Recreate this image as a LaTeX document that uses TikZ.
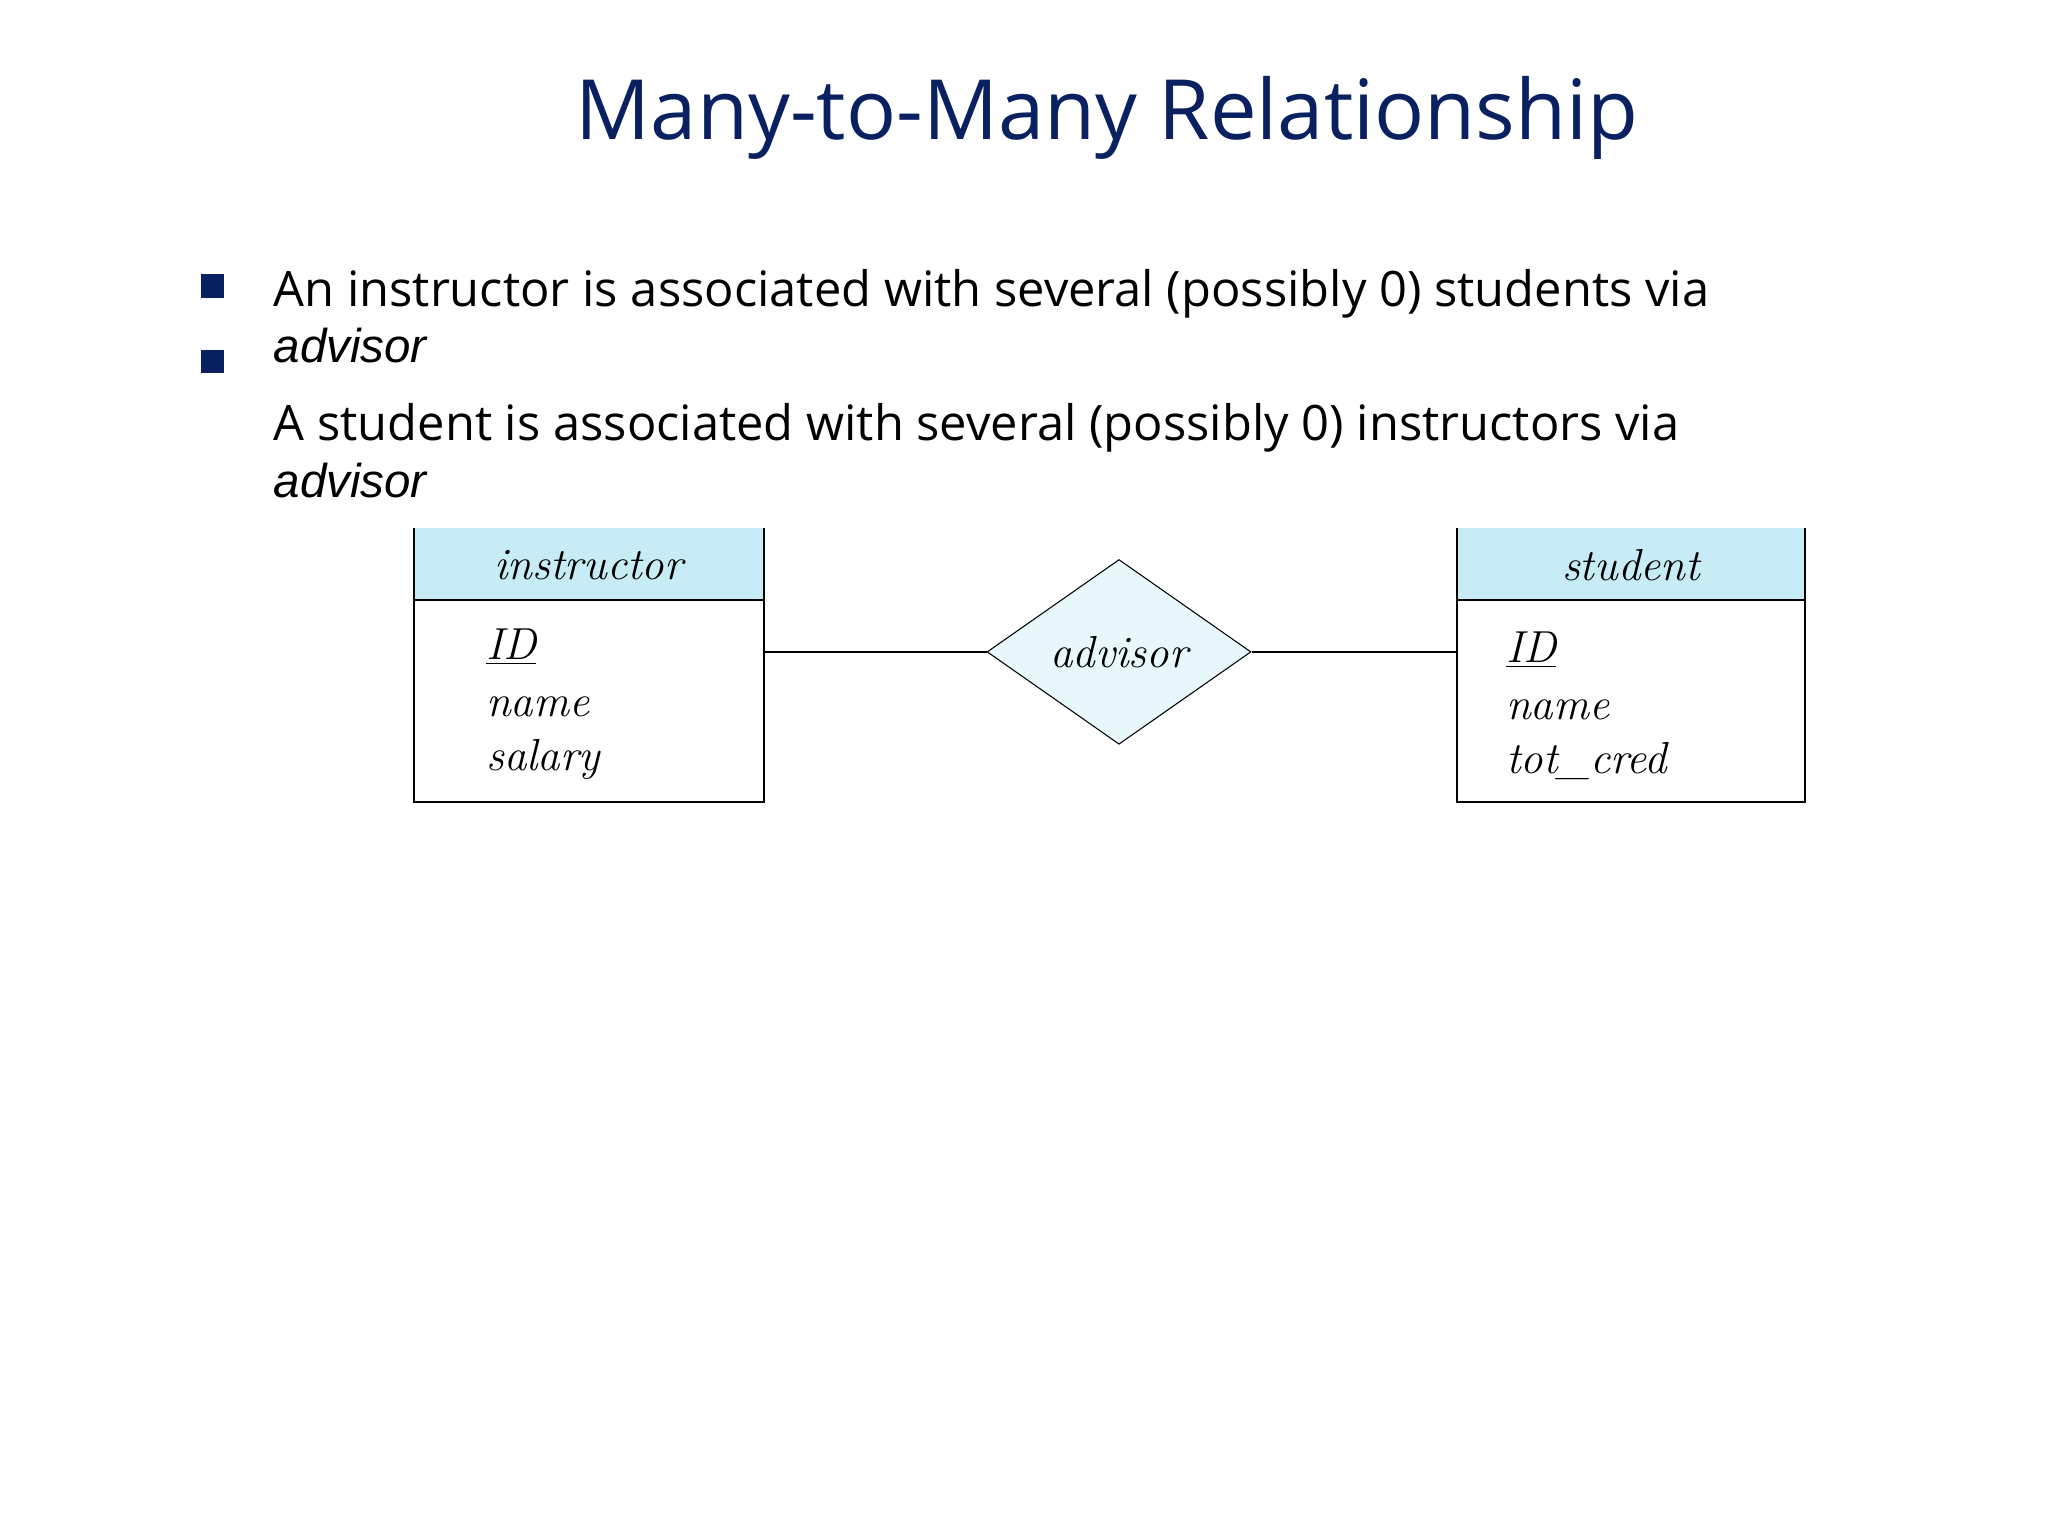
\documentclass[tikz,border=0pt]{standalone}
\usepackage{fontspec}
\setmainfont{Open Sans}
\newfontfamily\arialf{Liberation Sans}
\newfontfamily\erf{Latin Modern Roman}
\usetikzlibrary{shapes.geometric}
\definecolor{navy}{HTML}{0A2161}
\definecolor{hdr}{HTML}{C8ECF5}
\definecolor{dfill}{HTML}{E8F7FB}
\tikzset{
  txt/.style={anchor=base west,inner sep=0pt,font=\fontsize{18.5}{22}\selectfont},
  attr/.style={anchor=base west,inner sep=0pt,font=\erf\itshape\fontsize{17}{20}\selectfont},
  hd/.style={inner sep=0pt,font=\erf\itshape\fontsize{17}{20}\selectfont},
  bul/.style={fill=navy,minimum size=9pt,inner sep=0pt},
}
\begin{document}
\begin{tikzpicture}[x=0.5pt,y=-0.5pt]
\useasboundingbox (0,0) rectangle (1552,1164);
\node[anchor=base,inner sep=0pt,text=navy,font=\fontsize{31.5}{36}\selectfont] (title) at (839,106) {Many-to-Many Relationship};
\node[bul] (b1) at (161,217) {};
\node[bul] (b2) at (161,274) {};
\node[txt] (l1) at (207,232) {An instructor is associated with several (possibly 0) students via};
\node[txt,font=\arialf\itshape\fontsize{18}{20}\selectfont] (l2) at (207,275) {advisor};
\node[txt] (l3) at (207,334) {A student is associated with several (possibly 0) instructors via};
\node[txt,font=\arialf\itshape\fontsize{18}{20}\selectfont] (l4) at (207,377) {advisor};
% instructor
\fill[hdr] (314,400) rectangle (579,455);
\draw[line width=0.8pt] (314,400) -- (314,608) -- (579,608) -- (579,400);
\draw[line width=0.8pt] (314,455) -- (579,455);
\node[hd] (ih) at (446,428) {instructor};
\node[attr] (iid) at (368,500) {\underline{ID}};
\node[attr] (iname) at (368,543) {name};
\node[attr] (isal) at (368,584) {salary};
\coordinate (ir) at (579,494);
% student
\fill[hdr] (1104,400) rectangle (1368,455);
\draw[line width=0.8pt] (1104,400) -- (1104,608) -- (1368,608) -- (1368,400);
\draw[line width=0.8pt] (1104,455) -- (1368,455);
\node[hd] (sh) at (1236,428) {student};
\node[attr] (sid) at (1141,502) {\underline{ID}};
\node[attr] (sname) at (1141,545) {name};
\node[attr] (scred) at (1141,586) {tot\_cred};
\coordinate (sl) at (1104,494);
% diamond
\node[diamond,draw,fill=dfill,minimum width=100pt,minimum height=70pt,inner sep=0pt,aspect=1.43,font=\erf\itshape\fontsize{17}{20}\selectfont] (adv) at (848,494) {advisor};
\draw[line width=0.6pt] (ir) -- (adv.west);
\draw[line width=0.6pt] (adv.east) -- (sl);
\end{tikzpicture}
\end{document}
